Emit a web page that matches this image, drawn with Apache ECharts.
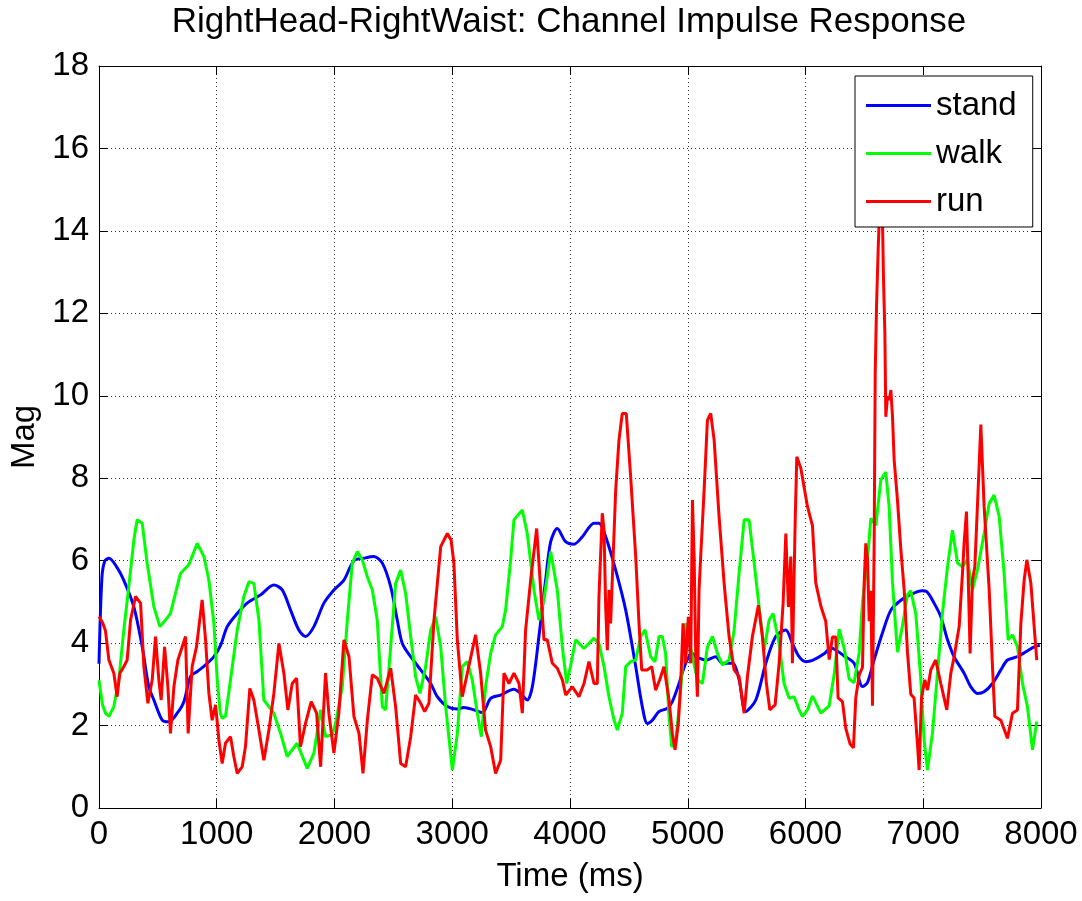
<!DOCTYPE html>
<html>
<head>
<meta charset="utf-8">
<script src="https://cdn.jsdelivr.net/npm/echarts@6/dist/echarts.min.js"></script>
<style>
html,body{margin:0;padding:0;background:#fff;}
#c{width:1082px;height:901px;}
</style>
</head>
<body>
<div id="c"></div>
<script>
const titleText = 'RightHead-RightWaist: Channel Impulse Response';
const xTicks = [0,1000,2000,3000,4000,5000,6000,7000,8000];
const yTicks = [0,2,4,6,8,10,12,14,16,18];
const seriesNames = ['stand','walk','run'];

const standT = [0,25,50,85,150,210,296,367,423,466,537,593,664,721,777,834,905,976,1033,1089,1174,1258,1372,1485,1556,1627,1697,1754,1825,1910,1995,2080,2165,2250,2335,2406,2477,2533,2576,2647,2732,2817,2873,2958,3043,3099,3184,3255,3326,3411,3524,3581,3637,3680,3736,3793,3836,3892,3963,4034,4105,4204,4246,4303,4388,4473,4558,4614,4657,4699,4756,4827,4869,4926,4982,5039,5068,5153,5238,5294,5379,5436,5493,5578,5663,5747,5832,5889,5946,6002,6059,6158,6215,6328,6413,6484,6526,6583,6654,6725,6810,6894,6990,7030,7092,7149,7206,7262,7347,7404,7460,7517,7588,7659,7715,7800,7871,7942,7990];
const standV = [3.5,5.6,6.0,6.06,5.85,5.53,4.88,3.91,2.94,2.62,2.13,2.09,2.30,2.58,3.19,3.31,3.47,3.67,3.95,4.40,4.72,4.97,5.17,5.41,5.29,4.80,4.32,4.16,4.40,4.97,5.29,5.53,6.0,6.06,6.10,5.94,5.37,4.56,3.99,3.67,3.35,3.02,2.70,2.46,2.40,2.44,2.38,2.31,2.66,2.74,2.88,2.78,2.62,2.94,4.16,5.53,6.46,6.78,6.46,6.40,6.58,6.91,6.91,6.58,5.77,4.80,3.43,2.46,2.05,2.13,2.34,2.42,2.58,3.02,3.51,3.75,3.67,3.59,3.67,3.51,3.51,3.11,2.34,2.62,3.51,4.16,4.32,3.99,3.67,3.55,3.58,3.74,3.88,3.69,3.51,2.95,3.04,3.60,4.25,4.80,5.04,5.18,5.27,5.25,4.97,4.64,4.08,3.67,3.27,2.94,2.78,2.82,3.02,3.35,3.59,3.67,3.79,3.91,3.95];

const walkT = [0,30,55,84,126,168,211,253,296,324,367,409,466,517,565,607,650,692,763,834,891,933,976,1004,1030,1046,1074,1117,1174,1230,1273,1315,1358,1400,1485,1542,1598,1683,1768,1825,1882,1924,1981,2009,2066,2109,2151,2194,2236,2279,2321,2363,2406,2434,2477,2519,2562,2604,2647,2689,2726,2774,2817,2859,2902,2944,3001,3043,3085,3128,3170,3213,3247,3283,3326,3368,3425,3453,3496,3524,3595,3637,3694,3736,3779,3836,3892,3935,3972,4005,4048,4119,4204,4246,4289,4331,4374,4402,4444,4473,4515,4558,4600,4637,4685,4722,4756,4784,4812,4841,4864,4897,4940,4982,5040,5082,5125,5167,5210,5252,5294,5351,5394,5436,5479,5521,5564,5606,5649,5691,5725,5776,5818,5861,5903,5946,5974,6017,6059,6130,6201,6243,6286,6328,6371,6413,6456,6484,6526,6555,6597,6640,6682,6710,6739,6781,6824,6866,6894,6937,6979,7007,7036,7078,7121,7163,7206,7248,7291,7333,7375,7418,7460,7517,7560,7602,7645,7687,7721,7758,7800,7843,7885,7928,7964];
const walkV = [3.1,2.5,2.3,2.22,2.46,3.11,4.32,5.37,6.50,6.99,6.91,5.94,4.88,4.40,4.56,4.72,5.21,5.69,5.90,6.42,6.10,5.53,4.48,3.11,2.30,2.18,2.22,3.11,4.32,5.13,5.49,5.45,4.56,2.62,2.30,1.81,1.25,1.57,0.96,1.33,2.38,1.73,1.78,2.05,2.94,4.56,5.94,6.22,6.02,5.61,5.29,4.56,2.46,2.38,3.91,5.45,5.77,5.21,4.16,3.19,2.78,3.43,4.32,4.64,3.91,2.46,0.92,1.8,3.43,3.55,3.11,2.30,1.73,2.94,3.75,4.20,4.40,4.80,6.02,6.99,7.23,6.66,5.29,4.56,5.05,6.22,5.29,3.91,3.02,3.45,4.08,3.87,4.12,3.99,3.43,2.70,2.13,1.89,2.30,3.43,3.55,3.59,4.16,4.32,3.67,3.55,4.16,4.16,3.75,2.22,1.49,1.57,2.86,4.48,3.67,3.11,3.02,3.91,4.16,3.75,3.47,3.59,4.32,5.69,6.99,6.99,5.94,4.88,3.83,4.56,4.72,3.99,3.02,2.66,2.70,2.38,2.22,2.38,2.72,2.30,2.48,3.23,4.34,3.88,3.13,3.04,3.78,4.99,6.01,7.03,6.85,7.96,8.15,7.31,5.46,3.78,4.43,5.18,5.27,4.71,3.13,1.65,0.92,1.81,3.27,4.72,5.85,6.74,5.94,5.85,6.02,5.29,5.77,6.66,7.39,7.59,7.07,5.69,4.08,4.20,3.91,3.02,2.46,1.41,2.10];

const runT = [0,30,55,84,126,154,177,211,239,268,310,353,381,415,452,480,508,528,557,585,607,636,670,735,757,791,828,876,905,933,961,990,1018,1046,1074,1117,1145,1174,1216,1244,1281,1315,1358,1400,1443,1485,1528,1570,1604,1641,1678,1711,1754,1802,1848,1882,1924,1952,1995,2037,2080,2123,2165,2208,2242,2279,2321,2363,2420,2477,2519,2562,2604,2647,2689,2732,2766,2802,2845,2902,2958,2990,3014,3043,3085,3128,3198,3241,3283,3326,3368,3411,3439,3482,3524,3567,3595,3623,3666,3717,3751,3779,3807,3850,3892,3935,3963,4020,4076,4119,4161,4204,4232,4246,4274,4289,4303,4317,4331,4345,4360,4388,4416,4444,4478,4515,4558,4586,4609,4657,4694,4727,4762,4798,4841,4869,4892,4920,4940,4960,4982,5005,5025,5040,5054,5068,5082,5096,5110,5139,5167,5195,5224,5266,5309,5351,5394,5436,5479,5507,5549,5600,5634,5668,5697,5742,5776,5810,5833,5855,5875,5889,5912,5926,5960,6017,6059,6087,6130,6172,6201,6229,6257,6277,6314,6342,6379,6407,6427,6456,6484,6498,6512,6527,6541,6555,6569,6583,6592,6603,6617,6630,6645,6654,6662,6674,6682,6696,6711,6725,6739,6753,6781,6810,6838,6866,6894,6922,6951,6965,6985,7013,7036,7064,7106,7149,7200,7234,7262,7305,7333,7347,7367,7381,7398,7418,7438,7460,7489,7517,7560,7588,7608,7659,7715,7758,7800,7829,7857,7880,7914,7942,7964];
const runV = [4.64,4.5,4.3,3.59,3.27,2.70,3.27,3.43,3.59,4.56,5.13,4.97,3.43,2.54,3.11,4.16,3.11,2.62,3.91,2.94,1.81,2.94,3.59,4.16,1.81,3.43,3.91,5.05,4.08,2.78,2.13,2.5,1.65,1.08,1.57,1.73,1.25,0.84,1.00,1.49,2.90,2.62,1.89,1.16,1.89,2.78,3.99,3.27,2.38,3.02,3.15,1.49,2.05,2.58,2.30,1.00,3.27,2.30,1.33,2.30,4.08,3.67,2.22,1.81,0.84,2.13,3.23,3.15,2.78,3.39,2.46,1.08,1.00,1.73,2.74,2.54,2.34,2.54,4.56,6.34,6.66,6.5,5.94,4.08,2.70,3.27,4.20,3.27,1.89,1.49,0.84,1.16,3.27,3.02,3.27,3.02,2.30,4.32,5.53,6.78,5.29,4.08,4.08,3.51,3.39,3.11,2.74,2.94,2.70,3.02,3.55,3.02,3.02,5.13,7.15,6.74,4.88,3.83,5.29,4.48,5.61,7.71,8.93,9.57,9.57,8.04,6.10,4.48,3.35,3.35,3.43,2.86,3.11,3.43,2.62,1.81,1.41,2.05,3.02,4.48,3.51,4.64,3.51,7.47,6.10,3.67,2.70,5.29,6.10,7.71,9.41,9.57,8.93,7.07,5.45,4.16,3.35,3.19,2.30,3.19,4.16,4.92,4.16,3.02,2.38,2.50,3.51,4.97,6.66,4.88,6.10,3.51,6.91,8.52,8.25,7.31,6.85,5.46,4.90,4.53,3.60,4.15,4.15,2.67,2.58,1.93,1.55,1.46,2.67,3.23,3.41,5.45,6.42,6.02,4.53,5.27,2.48,6.38,10.54,12.16,13.54,14.6,14.8,14.2,12.89,11.52,9.49,9.98,9.90,10.14,9.49,8.44,7.47,6.26,5.29,3.78,2.76,2.67,1.55,0.92,2.67,3.11,2.86,3.35,3.59,3.02,2.38,3.27,3.67,4.40,5.69,6.42,7.19,5.69,3.75,5.53,5.85,7.31,9.3,7.31,5.29,3.43,2.22,2.13,1.69,2.30,2.38,4.48,5.53,6.02,5.45,4.40,3.59];

const colors = ['#0000ff','#00ff00','#ff0000'];
const FONT = 'Liberation Sans, Arial, Helvetica, sans-serif';
const FS = 33;

function pairs(t, v){ return t.map((x,i)=>[x, v[i]]); }

const chart = echarts.init(document.getElementById('c'), null, {renderer:'canvas'});
const axisCommon = {
  type:'value',
  axisLine:{show:true, onZero:false, lineStyle:{color:'#000', width:1}},
  axisTick:{show:true, inside:true, length:9, lineStyle:{color:'#000', width:1}}
};
chart.setOption({
  animation:false,
  backgroundColor:'#fff',
  title:{
    text:titleText, left:569, top:5, textAlign:'center', padding:0,
    textStyle:{fontFamily:FONT, fontSize:35, fontWeight:'normal', color:'#000'}
  },
  legend:{
    data:seriesNames, orient:'vertical', left:855, top:76,
    padding:[13,16,9,11], itemGap:15, itemWidth:65, itemHeight:3, icon:'rect',
    backgroundColor:'#fff', borderColor:'#000', borderWidth:1,
    textStyle:{fontFamily:FONT, fontSize:FS, color:'#000'}
  },
  grid:{left:98, right:41, top:66, bottom:93, containLabel:false},
  xAxis:[
    Object.assign({}, axisCommon, {
      min:xTicks[0], max:xTicks[xTicks.length-1], interval:1000, position:'bottom',
      axisLabel:{fontFamily:FONT, fontSize:FS, color:'#000', margin:10, formatter:(v)=>String(v)},
      splitLine:{show:true, lineStyle:{color:'#333', width:1, type:[1,3]}},
      name:'Time (ms)', nameLocation:'middle', nameGap:52,
      nameTextStyle:{fontFamily:FONT, fontSize:FS, color:'#000'}
    }),
    Object.assign({}, axisCommon, {
      min:xTicks[0], max:xTicks[xTicks.length-1], interval:1000, position:'top',
      axisLabel:{show:false}, splitLine:{show:false}
    })
  ],
  yAxis:[
    Object.assign({}, axisCommon, {
      min:yTicks[0], max:yTicks[yTicks.length-1], interval:2, position:'left',
      axisLabel:{fontFamily:FONT, fontSize:FS, color:'#000', margin:10, formatter:(v)=>String(v)},
      splitLine:{show:true, lineStyle:{color:'#333', width:1, type:[1,3]}},
      name:'Mag', nameLocation:'middle', nameGap:58,
      nameTextStyle:{fontFamily:FONT, fontSize:FS, color:'#000'}
    }),
    Object.assign({}, axisCommon, {
      min:yTicks[0], max:yTicks[yTicks.length-1], interval:2, position:'right',
      axisLabel:{show:false}, splitLine:{show:false}
    })
  ],
  series:[
    {name:seriesNames[0], type:'line', data:pairs(standT,standV), showSymbol:false, smooth:0.3,
     lineStyle:{color:colors[0], width:3}, itemStyle:{color:colors[0]}},
    {name:seriesNames[1], type:'line', data:pairs(walkT,walkV), showSymbol:false,
     lineStyle:{color:colors[1], width:3}, itemStyle:{color:colors[1]}},
    {name:seriesNames[2], type:'line', data:pairs(runT,runV), showSymbol:false,
     lineStyle:{color:colors[2], width:3}, itemStyle:{color:colors[2]}}
  ]
});
</script>
</body>
</html>
